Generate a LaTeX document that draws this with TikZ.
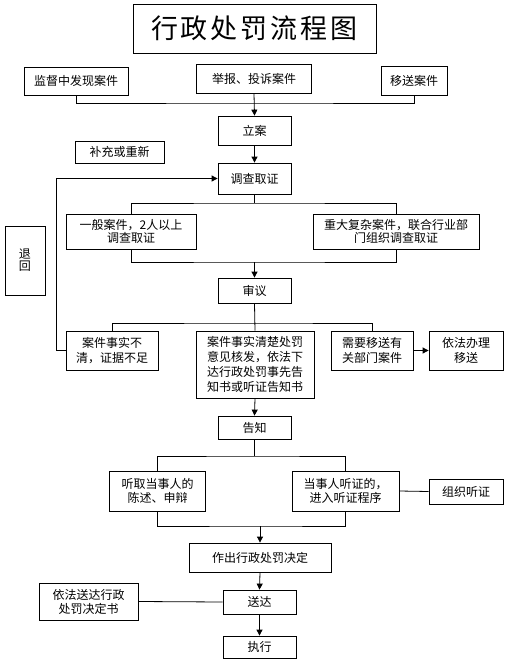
\documentclass[tikz,border=0pt]{standalone}
\usepackage{fontspec}
\setmainfont{Noto Sans CJK SC}
\usetikzlibrary{arrows.meta}
\tikzset{
  box/.style={draw,line width=0.8pt,inner sep=0pt,align=center,font=\fontsize{12}{14}\selectfont},
  arr/.style={line width=0.8pt,-{Triangle[length=6pt,width=6pt]}},
  ln/.style={line width=0.8pt}
}
\newcommand{\bx}[6]{\node[box,minimum width=#4pt,minimum height=#5pt] (#1) at (#2,#3) {#6};}
\begin{document}
\begin{tikzpicture}[x=1pt,y=-1pt]
\useasboundingbox (0,0) rectangle (508,661);
\node[draw,line width=0.8pt,inner sep=0pt,minimum width=243pt,minimum height=49pt,font=\fontsize{27}{30}\selectfont] (title) at (254.5,28.5) {行\hspace{3pt}政\hspace{3pt}处\hspace{3pt}罚\hspace{3pt}流\hspace{3pt}程\hspace{3pt}图};
\bx{src1}{76}{81}{104}{28}{监督中发现案件}
\bx{src2}{254}{78.5}{115}{29}{举报、投诉案件}
\bx{src3}{414}{80.5}{66}{29}{移送案件}
\bx{lian}{254.5}{130.5}{73}{29}{立案}
\bx{buchong}{119.5}{152}{89}{22}{补充或重新}
\bx{diaocha}{254.5}{178.5}{73}{31}{调查取证}
\node[box,minimum width=130pt,minimum height=35pt,font=\fontsize{12}{13}\selectfont] (yiban) at (131,231.5) {一般案件，2人以上\\调查取证};
\node[box,minimum width=166pt,minimum height=35pt,font=\fontsize{12}{13}\selectfont] (zhongda) at (396,231.5) {重大复杂案件，联合行业部\\门组织调查取证};
\node[box,minimum width=40pt,minimum height=69pt,font=\fontsize{12}{12}\selectfont] (tuihui) at (25,260.5) {退\\回};
\bx{shenyi}{254.5}{290.5}{73}{25}{审议}
\node[box,minimum width=92pt,minimum height=39pt,font=\fontsize{12}{15}\selectfont] (buqing) at (112,350.5) {案件事实不\\清，证据不足};
\node[box,minimum width=118pt,minimum height=67pt,font=\fontsize{12}{15}\selectfont] (qingchu) at (255,364.5) {案件事实清楚处罚\\意见核发，依法下\\达行政处罚事先告\\知书或听证告知书};
\node[box,minimum width=82pt,minimum height=39pt,font=\fontsize{12}{15}\selectfont] (yisong) at (372,350.5) {需要移送有\\关部门案件};
\node[box,minimum width=74pt,minimum height=39pt,font=\fontsize{12}{15}\selectfont] (banli) at (466,350.5) {依法办理\\移送};
\bx{gaozhi}{254.5}{427.5}{73}{23}{告知}
\bx{tingqu}{157.5}{491}{96}{40}{听取当事人的\\陈述、申辩}
\bx{tingzheng}{345.5}{491}{107}{40}{当事人听证的，\\进入听证程序}
\bx{zuzhi}{466}{491.5}{74}{25}{组织听证}
\bx{zuochu}{260}{557.5}{142}{29}{作出行政处罚决定}
\bx{songda}{259.5}{602}{73}{24}{送达}
\bx{yifa}{88.5}{601.5}{99}{37}{依法送达行政\\处罚决定书}
\bx{zhixing}{259.5}{647}{73}{22}{执行}
\coordinate (j1) at (254,103);
\coordinate (j2) at (254.5,203);
\coordinate (j3) at (254.5,262);
\coordinate (j4) at (254.5,323);
\coordinate (j5) at (254.5,456);
\coordinate (j6) at (260,526);
\draw[ln] (src1.south) |- (j1) -| (src3.south);
\draw[arr] (src2.south) -- (lian.north);
\draw[arr] (lian.south) -- (diaocha.north);
\draw[ln] (diaocha.south) -- (j2);
\draw[ln] (yiban.north) |- (j2) -| (zhongda.north);
\draw[ln] (yiban.south) |- (j3) -| (zhongda.south);
\draw[arr] (j3) -- (shenyi.north);
\draw[ln] (shenyi.south) -- (qingchu.north);
\draw[ln] (buqing.north) |- (j4) -| (yisong.north);
\draw[arr] (buqing.west) -- ++(-9,0) |- (diaocha.west);
\draw[arr] (yisong.east) -- (banli.west);
\draw[arr] (qingchu.south) -- (gaozhi.north);
\draw[ln] (gaozhi.south) -- (j5);
\draw[ln] (tingqu.north) |- (j5) -| (tingzheng.north);
\draw[ln] (tingzheng.east) -- (zuzhi.west);
\draw[ln] (tingqu.south) |- (j6) -| (tingzheng.south);
\draw[arr] (j6) -- (zuochu.north);
\draw[arr] (zuochu.south) -- (songda.north);
\draw[ln] (yifa.east) -- (songda.west);
\draw[arr] (songda.south) -- (zhixing.north);
\end{tikzpicture}
\end{document}
